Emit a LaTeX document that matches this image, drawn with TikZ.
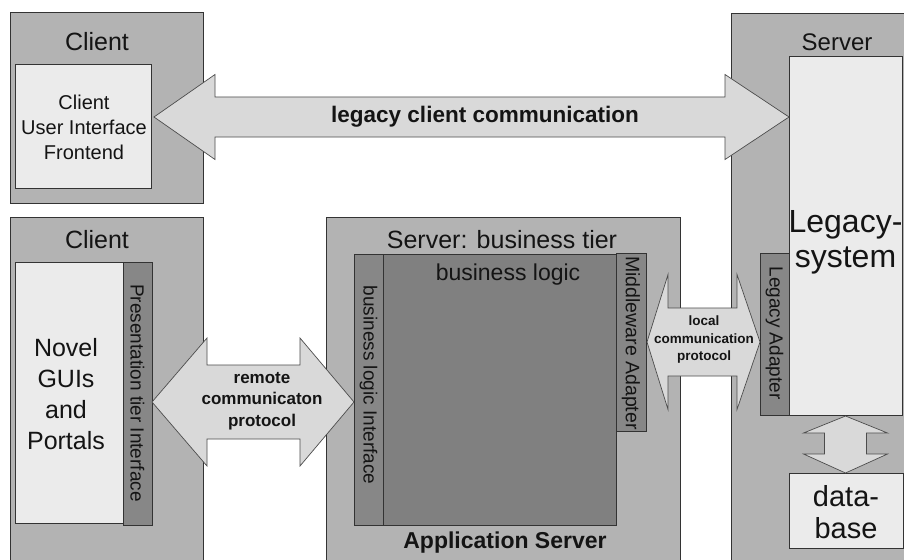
\documentclass[tikz,border=0pt]{standalone}
\usepackage{fontspec}
\setmainfont{Liberation Sans}
\usetikzlibrary{calc}

\definecolor{tiergray}{HTML}{B3B3B3}
\definecolor{panelgray}{HTML}{EBEBEB}
\definecolor{stripgray}{HTML}{878787}
\definecolor{logicgray}{HTML}{808080}
\definecolor{arrowgray}{HTML}{D9D9D9}
\definecolor{edgegray}{HTML}{333333}
\definecolor{inkgray}{HTML}{141414}

\tikzset{
  tierbox/.style={draw=edgegray, line width=0.9pt, fill=tiergray, inner sep=0pt, outer sep=0pt},
  panelbox/.style={draw=edgegray, line width=0.9pt, fill=panelgray, inner sep=0pt, outer sep=0pt},
  stripbox/.style={draw=edgegray, line width=0.9pt, fill=stripgray, inner sep=0pt, outer sep=0pt},
  logicbox/.style={draw=edgegray, line width=0.9pt, fill=logicgray, inner sep=0pt, outer sep=0pt},
  blockarrow/.style={draw=black!70, line width=0.7pt, fill=arrowgray, line join=miter},
  lbl/.style={inner sep=0pt, text=inkgray, align=center},
}

% rectangle node from its top-left and bottom-right corner
\newcommand\panel[6]{%
  \node[#2, anchor=north west, minimum width={(#5)-(#3)}, minimum height={(#6)-(#4)}] (#1) at (#3,#4) {};}

% horizontal double block arrow: from, to, left head, right head, half head, half shaft
\newcommand\hblock[6]{%
  \path[blockarrow] let \p1=(#1), \p2=(#2) in
    (\x1,\y1) -- (\x1+#3pt,\y1+#5pt) -- (\x1+#3pt,\y1+#6pt) -- (\x2-#4pt,\y1+#6pt)
    -- (\x2-#4pt,\y1+#5pt) -- (\x2,\y1) -- (\x2-#4pt,\y1-#5pt) -- (\x2-#4pt,\y1-#6pt)
    -- (\x1+#3pt,\y1-#6pt) -- (\x1+#3pt,\y1-#5pt) -- cycle;}

% vertical double block arrow: from (top), to (bottom), top head, bottom head, half head, half shaft
\newcommand\vblock[6]{%
  \path[blockarrow] let \p1=(#1), \p2=(#2) in
    (\x1,\y1) -- (\x1+#5pt,\y1-#3pt) -- (\x1+#6pt,\y1-#3pt) -- (\x1+#6pt,\y2+#4pt)
    -- (\x1+#5pt,\y2+#4pt) -- (\x1,\y2) -- (\x1-#5pt,\y2+#4pt) -- (\x1-#6pt,\y2+#4pt)
    -- (\x1-#6pt,\y1-#3pt) -- (\x1-#5pt,\y1-#3pt) -- cycle;}

\begin{document}
\begin{tikzpicture}[x=1pt,y=-1pt]
\useasboundingbox (0,0) rectangle (904,559);
\fill[white] (0,0) rectangle (904,559);

% tiers
\panel{clientTop}{tierbox}{10}{12}{203}{203}
\panel{clientBot}{tierbox}{10}{217}{203}{563}
\panel{appServer}{tierbox}{326}{217}{680}{563}
\panel{server}{tierbox}{731}{13}{907}{563}

% top client
\panel{ui}{panelbox}{15}{64}{151}{188}

% bottom client
\panel{novel}{panelbox}{15}{262}{123}{523}
\panel{pres}{stripbox}{123}{262}{152}{525}

% business tier
\panel{logic}{logicbox}{383}{254}{616}{525}
\panel{bli}{stripbox}{354}{254}{383}{525}
\panel{mw}{stripbox}{616}{253}{646}{431}

% legacy server
\panel{legacy}{panelbox}{789}{56}{902}{415}
\panel{ladapt}{stripbox}{760}{253}{789}{415}
\panel{db}{panelbox}{789}{473}{903}{548}

% block arrows
\coordinate (topL) at (154,117);
\coordinate (topR) at (topL -| legacy.west);
\hblock{topL}{topR}{61}{64}{42.5}{20}

\coordinate (remL) at (152,402);
\coordinate (remR) at (remL -| bli.west);
\hblock{remL}{remR}{55}{54}{64}{37}

\coordinate (locL) at (647,342);
\coordinate (locR) at (locL -| ladapt.west);
\hblock{locL}{locR}{21}{23}{67.5}{34}

\coordinate (dbT) at (845.5,416);
\coordinate (dbB) at (dbT |- db.north);
\vblock{dbT}{dbB}{17}{19}{42}{21}

% tier labels
\node[lbl, font=\fontsize{25}{30}\selectfont] (clientTopLbl) at (97,42) {Client};
\node[lbl, font=\fontsize{25}{30}\selectfont] (clientBotLbl) at (97,240) {Client};
\node[lbl, font=\fontsize{24}{30}\selectfont] (serverLbl) at (837,42) {Server};
\node[lbl, font=\fontsize{25}{30}\selectfont] (appLbl) at (502,240) {Server: business tier};
\node[lbl, font=\fontsize{23}{28}\selectfont\bfseries] (appNameLbl) at (505,543) {Application Server};

% panel texts
\node[lbl, font=\fontsize{20}{25}\selectfont] (uiLbl) at (84,127) {Client\\User Interface\\Frontend};
\node[lbl, font=\fontsize{25}{31}\selectfont] (novelLbl) at (66,394) {Novel\\GUIs\\and\\Portals};
\node[lbl, font=\fontsize{23}{28}\selectfont] (logicLbl) at (508,275) {business logic};
\node[lbl, font=\fontsize{32}{35}\selectfont] (legacyLbl) at (845.5,242) {Legacy-\\system};
\node[lbl, font=\fontsize{29}{32}\selectfont] (dbLbl) at (846,512) {data-\\base};

% vertical strip texts
\node[lbl, rotate=-90, font=\fontsize{19}{22}\selectfont] (presLbl) at (137.5,393) {Presentation tier Interface};
\node[lbl, rotate=-90, font=\fontsize{19}{22}\selectfont] (bliLbl) at (368.5,385) {business logic Interface};
\node[lbl, rotate=-90, font=\fontsize{19.5}{22}\selectfont] (mwLbl) at (631,343) {Middleware Adapter};
\node[lbl, rotate=-90, font=\fontsize{19}{22}\selectfont] (ladaptLbl) at (774.5,333) {Legacy Adapter};

% arrow texts
\node[lbl, font=\fontsize{22.5}{26}\selectfont\bfseries] (topLbl) at (485,117) {legacy client communication};
\node[lbl, font=\fontsize{17}{21.5}\selectfont\bfseries] (remLbl) at (262,401) {remote\\communicaton\\protocol};
\node[lbl, font=\fontsize{13.5}{17.5}\selectfont\bfseries] (locLbl) at (704,340) {local\\communication\\protocol};
\end{tikzpicture}
\end{document}
